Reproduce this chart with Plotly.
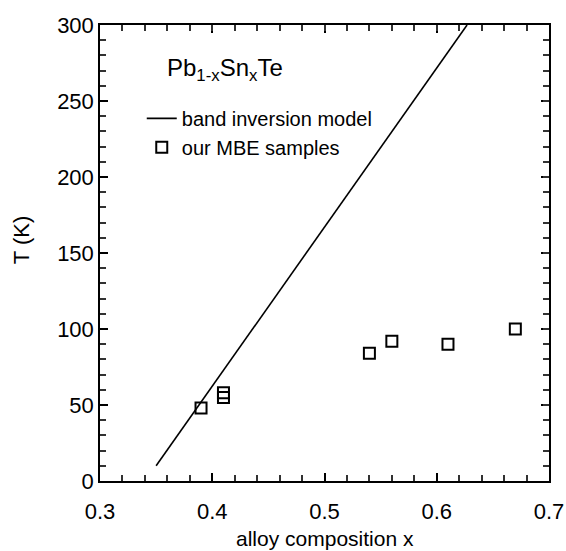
import plotly.graph_objects as go

# Band inversion model (line)
model_x = [0.35, 0.627]
model_T = [10, 300]

# Our MBE samples
sample_x = [0.39, 0.41, 0.41, 0.54, 0.56, 0.61, 0.67]
sample_T = [48, 55, 58, 84, 92, 90, 100]

FONT = "Liberation Sans, Arial, sans-serif"
MINOR_COLOR = "rgb(50,50,50)"

fig = go.Figure()
fig.add_trace(go.Scatter(
    x=model_x, y=model_T, mode="lines", name="band inversion model",
    line=dict(color="black", width=1.6),
))
fig.add_trace(go.Scatter(
    x=sample_x, y=sample_T, mode="markers", name="our MBE samples",
    marker=dict(symbol="square-open", size=11, color="black",
                line=dict(color="black", width=2)),
))
# invisible trace anchoring the overlay axes that carry the mirrored minor ticks
fig.add_trace(go.Scatter(
    x=sample_x, y=sample_T, mode="markers", xaxis="x2", yaxis="y2",
    marker=dict(opacity=0), showlegend=False, hoverinfo="skip",
))

base = dict(
    showline=True, linecolor="black", linewidth=1.5,
    ticks="inside", tickcolor="black", showgrid=False, zeroline=False,
    automargin=False,
)

fig.update_layout(
    xaxis=dict(
        range=[0.3, 0.7], tickmode="linear", tick0=0.3, dtick=0.1,
        ticklen=8, tickwidth=1.5, ticklabelstandoff=10, mirror="allticks",
        minor=dict(tick0=0.3, dtick=0.02, ticks="inside", ticklen=6, tickwidth=2, tickcolor=MINOR_COLOR),
        tickfont=dict(family=FONT, size=22, color="black"),
        **base,
    ),
    yaxis=dict(
        range=[0, 300], tickmode="linear", tick0=0, dtick=50,
        ticklen=8, tickwidth=1.5, mirror="allticks",
        minor=dict(tick0=0, dtick=10, ticks="inside", ticklen=6, tickwidth=2, tickcolor=MINOR_COLOR),
        tickfont=dict(family=FONT, size=22, color="black"),
        **base,
    ),
    xaxis2=dict(
        overlaying="x", anchor="y2", range=[0.3, 0.7], side="top",
        tickmode="linear", tick0=0.3, dtick=0.02, ticklen=6, tickwidth=2,
        showticklabels=False, showline=False, ticks="inside", tickcolor=MINOR_COLOR,
        showgrid=False, zeroline=False,
    ),
    yaxis2=dict(
        overlaying="y", anchor="x2", range=[0, 300], side="right",
        tickmode="linear", tick0=0, dtick=10, ticklen=6, tickwidth=2,
        showticklabels=False, showline=False, ticks="inside", tickcolor=MINOR_COLOR,
        showgrid=False, zeroline=False,
    ),
)

fig.add_annotation(
    xref="paper", yref="paper", x=0.145, y=0.903, xanchor="left", yanchor="middle",
    text="Pb<sub>1-x</sub>Sn<sub>x</sub>Te", showarrow=False,
    font=dict(family=FONT, size=24, color="black"),
)
fig.add_annotation(
    xref="paper", yref="paper", x=0.5, y=-0.125, xanchor="center", yanchor="middle",
    text="alloy composition x", showarrow=False,
    font=dict(family=FONT, size=21, color="black"),
)
fig.add_annotation(
    xref="paper", yref="paper", x=-0.176, y=0.528, xanchor="center", yanchor="middle",
    text="T (K)", textangle=-90, showarrow=False,
    font=dict(family=FONT, size=22, color="black"),
)

fig.update_layout(
    width=566, height=551,
    margin=dict(l=100, r=17, t=25, b=70),
    plot_bgcolor="white", paper_bgcolor="white",
    showlegend=True,
    legend=dict(
        x=0.093, y=0.838, xanchor="left", yanchor="top",
        bgcolor="rgba(0,0,0,0)", borderwidth=0,
        font=dict(family=FONT, size=20, color="black"),
        tracegroupgap=0,
    ),
)

fig.write_html("out.html")
